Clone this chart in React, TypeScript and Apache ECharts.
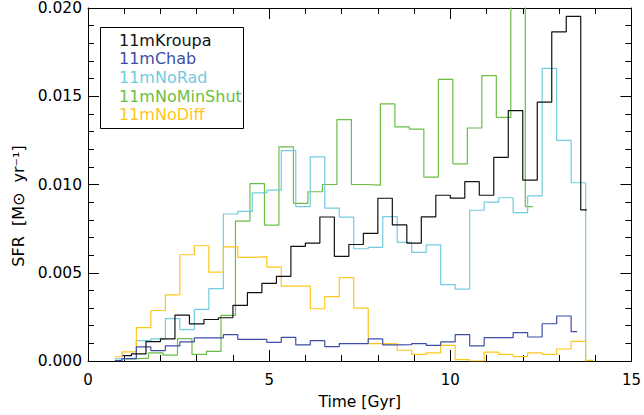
import React, { useEffect, useRef } from "react";
import * as echarts from "echarts";

// ---- data (time in Gyr, SFR in Msun/yr) ----
const BIN_WIDTH = 0.4;

const seriesNames = ["11mKroupa", "11mChab", "11mNoRad", "11mNoMinShut", "11mNoDiff"];
const seriesColors = ["#111111", "#3E4EA6", "#72CBE0", "#6BBE45", "#FFC61A"];

// [bin grid offset, first time, last time]
const kroupaGrid = [0.0, 0.95, 13.77];
const kroupaSFR = [
  0.0003, 0.0004, 0.0011, 0.00125, 0.0026, 0.0021, 0.00235, 0.00245, 0.00315, 0.00387,
  0.0044, 0.0048, 0.0065, 0.00668, 0.00816, 0.00593, 0.0066, 0.00723, 0.00922, 0.00771,
  0.00668, 0.00817, 0.00939, 0.00923, 0.01016, 0.00939, 0.01154, 0.01419, 0.01025, 0.01467,
  0.01865, 0.01953, 0.00856,
];

const chabGrid = [0.135, 0.74, 13.5];
const chabSFR = [
  0.00002, 0.00014, 0.0008, 0.00059, 0.00086, 0.00108, 0.00131, 0.00131, 0.00149, 0.00123,
  0.00123, 0.00106, 0.00134, 0.00091, 0.00115, 0.00082, 0.00099, 0.00099, 0.00125, 0.00091,
  0.00093, 0.00099, 0.00089, 0.00108, 0.00149, 0.00086, 0.00132, 0.00132, 0.00161, 0.00136,
  0.00211, 0.00255, 0.00166,
];

const noRadGrid = [0.135, 0.74, 13.8];
const noRadSFR = [
  0.00012, 0.00016, 0.00115, 0.00125, 0.0024, 0.00178, 0.00292, 0.0041, 0.00833, 0.00848,
  0.00952, 0.00968, 0.01192, 0.00875, 0.01156, 0.00866, 0.00815, 0.00636, 0.00644, 0.00818,
  0.00672, 0.00616, 0.00658, 0.00433, 0.00407, 0.00854, 0.009, 0.00925, 0.00841, 0.00935,
  0.01658, 0.0125, 0.0101, 0.0,
];

const noMinShutGrid = [0.07, 1.05, 12.28];
const noMinShutSFR = [
  0.00012, 0.00016, 0.00046, 0.00033, 0.00127, 0.00037, 0.00055, 0.00258, 0.00792, 0.01005,
  0.0077, 0.01213, 0.00893, 0.00959, 0.01, 0.01367, 0.01, 0.00997, 0.01457, 0.01326,
  0.01314, 0.01042, 0.01596, 0.01117, 0.0132, 0.01617, 0.0138, 0.024, 0.00875,
];

const noDiffGrid = [0.135, 0.74, 13.95];
const noDiffSFR = [
  0.00024, 0.00052, 0.00189, 0.00286, 0.00375, 0.00602, 0.00653, 0.00503, 0.00647, 0.00587,
  0.00591, 0.00532, 0.00424, 0.00424, 0.00296, 0.00365, 0.00472, 0.003, 0.00099, 0.00097,
  0.00061, 0.00038, 0.00046, 0.00088, 0.00008, 0.0, 0.0005, 0.00037, 0.00025, 0.00046,
  0.00037, 0.00068, 0.00111, 0.00003,
];

const xTicks = [0, 5, 10, 15];
const yTicks = [0, 0.005, 0.01, 0.015, 0.02];

// build bin edges: start, grid edges strictly inside, end
function binEdges(grid: number[]): number[] {
  const [offset, start, end] = grid;
  const edges = [start];
  for (let n = 0; n < 100; n++) {
    const e = Math.round((offset + BIN_WIDTH * n) * 1000) / 1000;
    if (e > start + 1e-6 && e < end - 1e-6) edges.push(e);
  }
  edges.push(end);
  return edges;
}

function stepData(grid: number[], values: number[]): number[][] {
  const edges = binEdges(grid);
  const pts: number[][] = [];
  for (let i = 0; i < values.length; i++) pts.push([edges[i], values[i]]);
  pts.push([edges[values.length], values[values.length - 1]]);
  return pts;
}

const FONT = "DejaVu Sans";

export default function App() {
  const ref = useRef<HTMLDivElement>(null);
  useEffect(() => {
    if (!ref.current) return;
    const chart = echarts.init(ref.current, undefined, { renderer: "svg" });
    const grids = [kroupaGrid, chabGrid, noRadGrid, noMinShutGrid, noDiffGrid];
    const vals = [kroupaSFR, chabSFR, noRadSFR, noMinShutSFR, noDiffSFR];
    const order = [3, 2, 4, 1, 0];
    const series = order.map((i) => ({
      type: "line",
      name: seriesNames[i],
      step: "end",
      showSymbol: false,
      symbol: "none",
      clip: true,
      data: stepData(grids[i], vals[i]),
      lineStyle: { color: seriesColors[i], width: 1.2 },
      itemStyle: { color: seriesColors[i] },
      z: 2,
    }));

    const axisCommon = {
      axisLine: { show: true, onZero: false, lineStyle: { color: "#000", width: 1 } },
      axisTick: { show: true, inside: true, length: 11, lineStyle: { color: "#000", width: 1 } },
      minorTick: { show: true, splitNumber: 5, length: 6, lineStyle: { color: "#000", width: 1 } },
      splitLine: { show: false },
    };

    chart.setOption({
      animation: false,
      grid: { left: 88, top: 7, right: 10, bottom: 53, containLabel: false },
      xAxis: [
        {
          type: "value",
          min: xTicks[0],
          max: xTicks[xTicks.length - 1],
          interval: 5,
          position: "bottom",
          ...axisCommon,
          axisLabel: { margin: 11, color: "#000", fontFamily: FONT, fontSize: 15 },
          name: "Time [Gyr]",
          nameLocation: "middle",
          nameGap: 33,
          nameTextStyle: { color: "#000", fontFamily: FONT, fontSize: 15.5 },
        },
        {
          type: "value",
          min: xTicks[0],
          max: xTicks[xTicks.length - 1],
          interval: 5,
          position: "top",
          ...axisCommon,
          axisLabel: { show: false },
        },
      ],
      yAxis: [
        {
          type: "value",
          min: yTicks[0],
          max: yTicks[yTicks.length - 1],
          interval: 0.005,
          position: "left",
          ...axisCommon,
          axisLabel: {
            margin: 6,
            color: "#000",
            fontFamily: FONT,
            fontSize: 15.5,
            formatter: (v: number) => v.toFixed(3),
          },
        },
        {
          type: "value",
          min: yTicks[0],
          max: yTicks[yTicks.length - 1],
          interval: 0.005,
          position: "right",
          ...axisCommon,
          axisLabel: { show: false },
        },
      ],
      series,
      graphic: [
        {
          type: "text",
          x: 18,
          y: 206,
          rotation: Math.PI / 2,
          style: {
            text: "SFR  [M⊙  yr⁻¹]",
            fill: "#000",
            font: `16px '${FONT}'`,
            align: "center",
            verticalAlign: "middle",
          },
        },
        {
          type: "rect",
          shape: { x: 100.5, y: 27.5, width: 143, height: 101 },
          style: { fill: "#fff", stroke: "#000", lineWidth: 1 },
          z: 10,
        },
        ...seriesNames.map((n, i) => ({
          type: "text",
          x: 119,
          y: 40 + i * 18.7,
          z: 11,
          style: {
            text: n,
            fill: seriesColors[i],
            font: `16px '${FONT}'`,
            align: "left",
            verticalAlign: "middle",
          },
        })),
      ],
    });
    return () => chart.dispose();
  }, []);
  return (
    <div
      ref={ref}
      style={{ position: "absolute", left: 0, top: 0, width: 644, height: 415 }}
    />
  );
}
